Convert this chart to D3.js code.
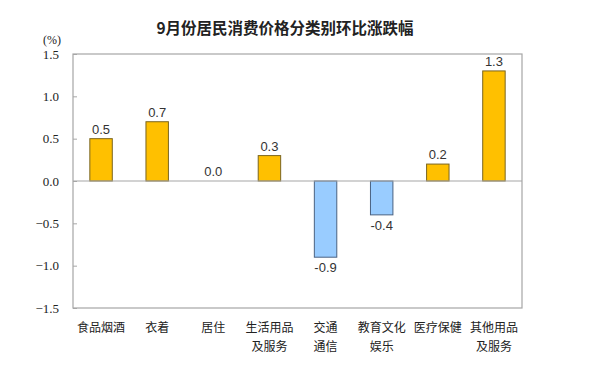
<!DOCTYPE html>
<html><head><meta charset="utf-8">
<script src="https://cdn.jsdelivr.net/npm/d3@7"></script>
<style>body{margin:0;background:#fff}svg{display:block}</style>
</head><body><svg id="c" width="602" height="376"></svg>
<script>
const categories = [["食品烟酒"],["衣着"],["居住"],["生活用品","及服务"],["交通","通信"],["教育文化","娱乐"],["医疗保健"],["其他用品","及服务"]];
const values = [0.5, 0.7, 0.0, 0.3, -0.9, -0.4, 0.2, 1.3];
const yTicks = [1.5, 1.0, 0.5, 0.0, -0.5, -1.0, -1.5];
const title = "9月份居民消费价格分类别环比涨跌幅";
const unit = "(%)";

const svg = d3.select("#c");
const L = 73, R = 522, T = 54, B = 308;
const x = d3.scaleBand().domain(d3.range(values.length)).range([L, R]).paddingInner(0.6).paddingOuter(0.3);
const y = d3.scaleLinear().domain([-1.5, 1.5]).range([B, T]);

svg.append("text").attr("x", 285).attr("y", 34).attr("text-anchor", "middle")
  .attr("font-family", "Noto Sans CJK SC").attr("font-size", 15.5).attr("font-weight", "bold").attr("fill", "#222").text(title);
svg.append("text").attr("x", 52).attr("y", 44).attr("text-anchor", "middle")
  .attr("font-family", "Liberation Serif").attr("font-size", 12).attr("fill", "#222").text(unit);

// frame
svg.append("rect").attr("x", L).attr("y", T).attr("width", R - L).attr("height", B - T)
  .attr("fill", "none").attr("stroke", "#a6a6a6").attr("stroke-width", 1.2);

// y axis ticks
const yAxis = d3.axisLeft(y).tickValues(yTicks).tickFormat(d3.format(".1f")).tickSize(-4).tickPadding(14);
const gy = svg.append("g").attr("transform", `translate(${L},0)`).call(yAxis);
gy.select(".domain").remove();
gy.selectAll(".tick line").attr("stroke", "#a6a6a6");
gy.selectAll(".tick text").attr("font-family", "Liberation Serif").attr("font-size", 13).attr("fill", "#222");

// bars
svg.selectAll("rect.bar").data(values).join("rect").attr("class", "bar")
  .attr("x", (d, i) => x(i)).attr("width", x.bandwidth())
  .attr("y", d => y(Math.max(0, d))).attr("height", d => Math.abs(y(d) - y(0)))
  .attr("fill", d => d >= 0 ? "#FFC000" : "#99CCFF")
  .attr("stroke", d => d >= 0 ? "#7a6520" : "#4a6282").attr("stroke-width", 1);

// zero line
svg.append("line").attr("x1", L).attr("x2", R).attr("y1", y(0)).attr("y2", y(0))
  .attr("stroke", "#a6a6a6").attr("stroke-width", 1.2);

// value labels
svg.selectAll("text.val").data(values).join("text").attr("class", "val")
  .attr("x", (d, i) => x(i) + x.bandwidth() / 2)
  .attr("y", d => d >= 0 ? y(d) - 5 : y(d) + 15)
  .attr("text-anchor", "middle").attr("font-family", "Liberation Sans").attr("font-size", 13).attr("fill", "#333")
  .text(d => d.toFixed(1));

// category labels
const cg = svg.selectAll("g.cat").data(categories).join("g").attr("class", "cat");
cg.each(function (lines, i) {
  const g = d3.select(this);
  lines.forEach((s, k) => {
    g.append("text").attr("x", x(i) + x.bandwidth() / 2).attr("y", 332 + k * 19)
      .attr("text-anchor", "middle").attr("font-family", "Noto Sans CJK SC").attr("font-size", 12).attr("fill", "#222").text(s);
  });
});
</script></body></html>
